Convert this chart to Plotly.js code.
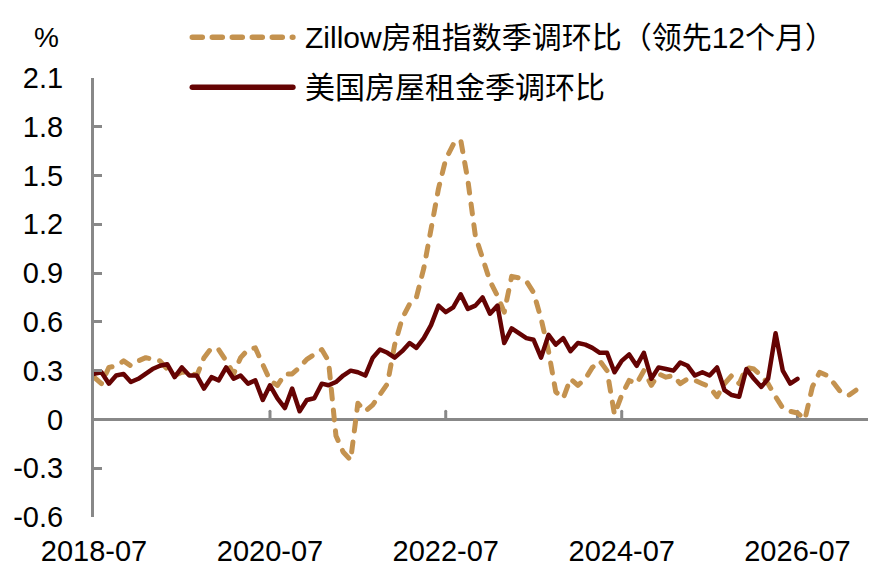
<!DOCTYPE html>
<html>
<head>
<meta charset="utf-8">
<script src="https://cdn.plot.ly/plotly-3.0.1.min.js"></script>
<style>
  body { margin: 0; background: #fff; }
  #chart { width: 879px; height: 588px; }
  .scatterlayer .js-line, .shapelayer path { stroke-linecap: round; stroke-linejoin: round; }
</style>
</head>
<body>
<div id="chart"></div>
<script>
// monthly series, first point = 2018-07
var startYear = 2018, startMonth = 7;

var seriesNames = ['Zillow房租指数季调环比（领先12个月）', '美国房屋租金季调环比'];

// Zillow rent index, seasonally adjusted m/m, shifted 12 months ahead
var zillowLead = [
  0.26, 0.22, 0.32, 0.33, 0.36, 0.33, 0.36, 0.38, 0.37, 0.36, 0.31, 0.27,
  0.29, 0.29, 0.27, 0.38, 0.44, 0.43, 0.36, 0.28, 0.38, 0.43, 0.44, 0.33,
  0.24, 0.21, 0.28, 0.28, 0.32, 0.37, 0.40, 0.43, 0.36, -0.10, -0.20, -0.25,
  0.10, 0.05, 0.09, 0.16, 0.22, 0.46, 0.62, 0.71, 0.75, 0.93, 1.18, 1.42,
  1.60, 1.69, 1.72, 1.47, 1.13, 1.00, 0.85, 0.76, 0.66, 0.88, 0.87, 0.85,
  0.78, 0.62, 0.42, 0.17, 0.13, 0.25, 0.21, 0.25, 0.32, 0.36, 0.30, 0.03,
  0.15, 0.24, 0.22, 0.30, 0.21, 0.28, 0.26, 0.27, 0.22, 0.25, 0.24, 0.22,
  0.20, 0.14, 0.22, 0.27, 0.22, 0.32, 0.31, 0.27, 0.22, 0.14, 0.07, 0.05,
  0.04, 0.00, 0.20, 0.29, 0.27, 0.22, 0.16, 0.15, 0.18
];

// US rent, seasonally adjusted m/m
var rentCpi = [
  0.28, 0.29, 0.22, 0.27, 0.28, 0.23, 0.25, 0.28, 0.31, 0.33, 0.34, 0.26,
  0.32, 0.27, 0.27, 0.19, 0.26, 0.24, 0.32, 0.25, 0.27, 0.22, 0.24, 0.12,
  0.21, 0.13, 0.07, 0.19, 0.05, 0.12, 0.13, 0.22, 0.21, 0.23, 0.27, 0.30,
  0.29, 0.27, 0.38, 0.43, 0.41, 0.38, 0.42, 0.47, 0.44, 0.50, 0.58, 0.70,
  0.66, 0.69, 0.77, 0.68, 0.70, 0.75, 0.65, 0.70, 0.47, 0.56, 0.53, 0.50,
  0.49, 0.38, 0.52, 0.46, 0.50, 0.42, 0.47, 0.46, 0.44, 0.41, 0.41, 0.29,
  0.36, 0.40, 0.33, 0.41, 0.25, 0.32, 0.31, 0.30, 0.35, 0.33, 0.27, 0.29,
  0.27, 0.32, 0.18, 0.15, 0.14, 0.31, 0.25, 0.20, 0.25, 0.53, 0.30, 0.22,
  0.25
];

var xTickVals = ['2018-07-01', '2020-07-01', '2022-07-01', '2024-07-01', '2026-07-01'];
var xTickText = ['2018-07', '2020-07', '2022-07', '2024-07', '2026-07'];
var yTickVals = [2.1, 1.8, 1.5, 1.2, 0.9, 0.6, 0.3, 0, -0.3, -0.6];
var yTickText = ['2.1', '1.8', '1.5', '1.2', '0.9', '0.6', '0.3', '0', '-0.3', '-0.6'];

var tan = '#C4924F';
var maroon = '#650303';
var axisGrey = '#888888';
var fontFam = '"Liberation Sans", Arial, "Noto Sans CJK SC", sans-serif';

function monthDates(n) {
  var out = [];
  for (var i = 0; i < n; i++) {
    var m = startMonth - 1 + i;
    var y = startYear + Math.floor(m / 12);
    var mm = (m % 12) + 1;
    out.push(y + '-' + (mm < 10 ? '0' + mm : mm) + '-01');
  }
  return out;
}

var data = [
  {
    type: 'scatter',
    mode: 'lines',
    name: seriesNames[0],
    x: monthDates(zillowLead.length),
    y: zillowLead,
    line: { color: tan, width: 5, dash: '10px,11px' },
    hoverinfo: 'skip'
  },
  {
    type: 'scatter',
    mode: 'lines',
    name: seriesNames[1],
    x: monthDates(rentCpi.length),
    y: rentCpi,
    line: { color: maroon, width: 4.5 },
    hoverinfo: 'skip'
  }
];

// small up-pointing ticks on the zero line
var shapes = xTickVals.slice(1).map(function (d) {
  return {
    type: 'line', xref: 'x', yref: 'y',
    x0: d, x1: d, y0: 0, y1: 0.05,
    line: { color: axisGrey, width: 3 },
    layer: 'below'
  };
});

// hand made legend (long line samples)
shapes.push({
  type: 'line', xref: 'paper', yref: 'paper',
  x0: 0.127, x1: 0.257, y0: 1.093, y1: 1.093,
  line: { color: tan, width: 5.5, dash: '10px,10px' }
});
shapes.push({
  type: 'line', xref: 'paper', yref: 'paper',
  x0: 0.127, x1: 0.257, y0: 0.979, y1: 0.979,
  line: { color: maroon, width: 5.5 }
});

var annotations = [
  {
    xref: 'paper', yref: 'paper', x: 0.27, y: 1.093,
    xanchor: 'left', yanchor: 'middle', showarrow: false,
    text: seriesNames[0],
    font: { family: fontFam, size: 30, color: '#000' }
  },
  {
    xref: 'paper', yref: 'paper', x: 0.27, y: 0.979,
    xanchor: 'left', yanchor: 'middle', showarrow: false,
    text: seriesNames[1],
    font: { family: fontFam, size: 30, color: '#000' }
  },
  {
    xref: 'paper', yref: 'paper', x: -0.061, y: 1.093,
    xanchor: 'center', yanchor: 'middle', showarrow: false,
    text: '%',
    font: { family: fontFam, size: 28, color: '#000' }
  }
];

var layout = {
  width: 879,
  height: 588,
  margin: { l: 94, r: 11, t: 78, b: 71 },
  paper_bgcolor: '#ffffff',
  plot_bgcolor: '#ffffff',
  showlegend: false,
  font: { family: fontFam, size: 29, color: '#000' },
  xaxis: {
    type: 'date',
    range: ['2018-07-01', '2027-04-20'],
    tickmode: 'array',
    tickvals: xTickVals,
    ticktext: xTickText,
    showgrid: false,
    showline: false,
    zeroline: false,
    ticks: '',
    ticklabelstandoff: 14,
    tickfont: { family: fontFam, size: 29, color: '#000' },
    fixedrange: true
  },
  yaxis: {
    range: [-0.6, 2.1],
    tickmode: 'array',
    tickvals: yTickVals,
    ticktext: yTickText,
    showgrid: false,
    showline: true,
    linecolor: axisGrey,
    linewidth: 3,
    ticks: 'inside',
    ticklen: 8,
    tickwidth: 3,
    tickcolor: axisGrey,
    zeroline: true,
    zerolinecolor: axisGrey,
    zerolinewidth: 3,
    ticklabelstandoff: 22,
    tickfont: { family: fontFam, size: 29, color: '#000' },
    fixedrange: true
  },
  shapes: shapes,
  annotations: annotations
};

Plotly.newPlot('chart', data, layout, { staticPlot: true, displayModeBar: false });
</script>
</body>
</html>
